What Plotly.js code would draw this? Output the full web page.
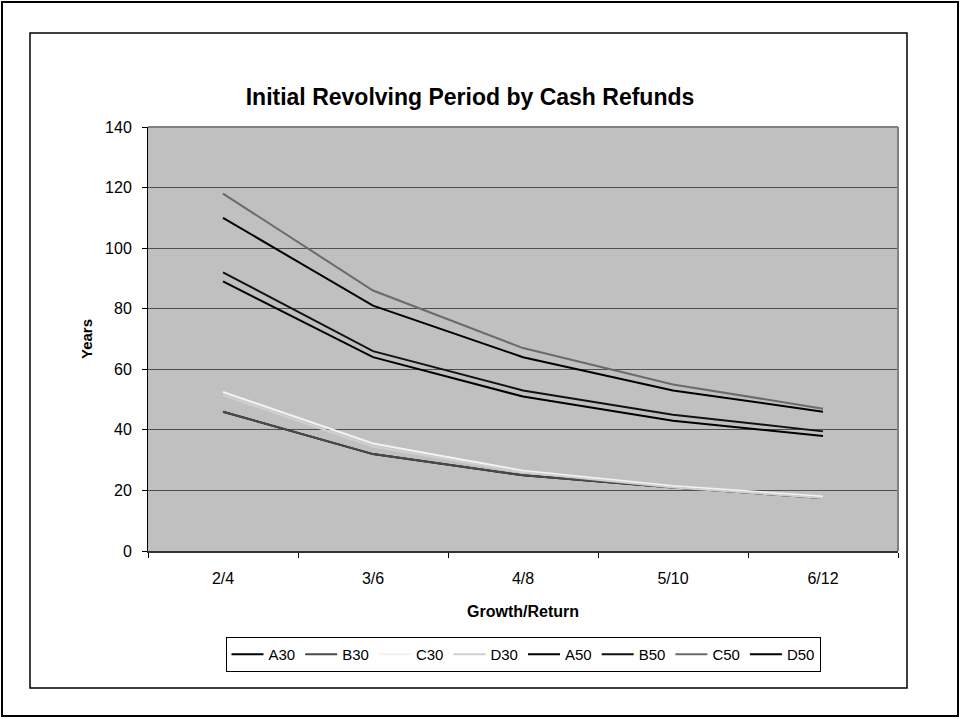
<!DOCTYPE html>
<html>
<head>
<meta charset="utf-8">
<script src="https://cdn.plot.ly/plotly-3.0.1.min.js"></script>
<style>
  html, body { margin: 0; padding: 0; background: #ffffff; }
  #chart { width: 961px; height: 719px; }
</style>
</head>
<body>
<div id="chart"></div>
<script>
// ---- Data ----
const categories = ["2/4", "3/6", "4/8", "5/10", "6/12"];
const seriesNames = ["A30", "B30", "C30", "D30", "A50", "B50", "C50", "D50"];
const A30 = [46, 32, 25, 21, 17.5];
const B30 = [46, 32, 25, 21, 17.5];
const C30 = [52.5, 35.5, 26.5, 21.5, 18];
const D30 = [51.5, 34.5, 26, 21, 17.5];
const A50 = [89, 64, 51, 43, 38];
const B50 = [92, 66, 53, 45, 39.5];
const C50 = [118, 86, 67, 55, 47];
const D50 = [110, 81, 64, 53, 46];
const yTicks = [0, 20, 40, 60, 80, 100, 120, 140];

const seriesValues = [A30, B30, C30, D30, A50, B50, C50, D50];
const seriesColors = ["#000000", "#4a4a4a", "#f2f2f2", "#d0d0d0", "#000000", "#111111", "#6b6b6b", "#000000"];

const traces = seriesNames.map((n, i) => ({
  type: "scatter",
  mode: "lines",
  name: n,
  x: categories,
  y: seriesValues[i],
  line: { color: seriesColors[i], width: 2 },
  hoverinfo: "x+y+name"
}));

// plot area in pixels
const PL = 148, PR = 898, PT = 127, PB = 551;
const W = 961, H = 719;
const px = x => (x - PL) / (PR - PL);
const py = y => (PB - y) / (PB - PT);

const font = "Liberation Sans, Arial, sans-serif";

const layout = {
  width: W, height: H,
  margin: { l: PL, r: W - PR, t: PT, b: H - PB, pad: 0 },
  paper_bgcolor: "#ffffff",
  plot_bgcolor: "#c0c0c0",
  font: { family: font, size: 15, color: "#000000" },
  showlegend: true,
  title: {
    text: "<b>Initial Revolving Period by Cash Refunds</b>",
    font: { family: font, size: 23, color: "#000000" },
    xref: "container", yref: "container",
    x: 470 / W, xanchor: "center",
    y: 1 - 97 / H, yanchor: "middle"
  },
  xaxis: {
    type: "category",
    range: [-0.5, categories.length - 0.5],
    tickson: "boundaries",
    ticks: "outside", ticklen: 5, tickcolor: "#000000", tickwidth: 1,
    ticklabelstandoff: 12,
    showgrid: false,
    showline: true, linecolor: "#333333", linewidth: 2,
    tickfont: { family: font, size: 16 },
    title: { text: "<b>Growth/Return</b>", font: { family: font, size: 16 }, standoff: 20 },
    zeroline: false,
    fixedrange: true
  },
  yaxis: {
    range: [0, 140],
    tickvals: yTicks,
    ticktext: yTicks.map(String),
    ticks: "outside", ticklen: 5, tickcolor: "#000000", tickwidth: 1,
    ticklabelstandoff: 7,
    showgrid: true, gridcolor: "#505050", gridwidth: 1,
    showline: true, linecolor: "#000000", linewidth: 1,
    zeroline: false,
    tickfont: { family: font, size: 16 },
    title: { text: "<b>Years</b>", font: { family: font, size: 15 }, standoff: 8 },
    fixedrange: true
  },
  legend: {
    orientation: "h",
    x: 0.5, xanchor: "center",
    y: py(637), yanchor: "top",
    bgcolor: "#ffffff",
    bordercolor: "#000000", borderwidth: 1,
    font: { family: font, size: 15 },
    itemwidth: 32,
    traceorder: "normal"
  },
  shapes: [
    // outer frame
    { type: "rect", xref: "paper", yref: "paper", x0: px(2), x1: px(958), y0: py(716), y1: py(2),
      line: { color: "#000000", width: 2 }, layer: "below" },
    // chart area frame
    { type: "rect", xref: "paper", yref: "paper", x0: px(30), x1: px(907), y0: py(688), y1: py(33),
      line: { color: "#000000", width: 1.5 }, layer: "below" },
    // plot area top & right border
    { type: "line", xref: "paper", yref: "paper", x0: 0, x1: 1, y0: 1, y1: 1,
      line: { color: "#808080", width: 2 }, layer: "above" },
    { type: "line", xref: "paper", yref: "paper", x0: 1, x1: 1, y0: 0, y1: 1,
      line: { color: "#808080", width: 2 }, layer: "above" }
  ]
};

Plotly.newPlot("chart", traces, layout, { displayModeBar: false });
</script>
</body>
</html>
